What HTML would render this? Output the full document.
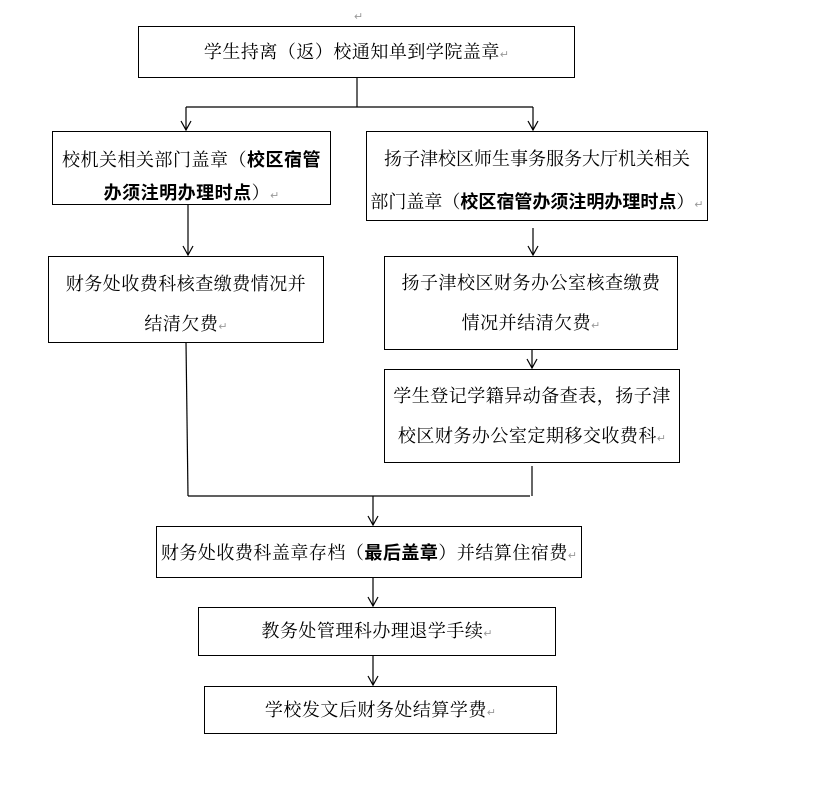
<!DOCTYPE html>
<html><head><meta charset="utf-8"><style>
body{margin:0;background:#fff;width:813px;height:797px;position:relative;overflow:hidden;font-family:"Liberation Serif","Noto Serif CJK SC",serif;}
.b{position:absolute;border:1.3px solid #000;box-sizing:border-box;font-size:18px;letter-spacing:0.5px;color:#000;text-align:center;line-height:40px;white-space:nowrap;}
.m{color:#999;font-size:11px;letter-spacing:0;}
b{font-weight:bold;font-family:"Noto Sans CJK SC",sans-serif;}
svg{position:absolute;left:0;top:0;}
</style></head><body>
<svg width="813" height="797" stroke="#000" stroke-width="1.2" fill="none">
<line x1="357" y1="77" x2="357" y2="107"/>
<line x1="186" y1="107" x2="533" y2="107"/>
<line x1="186" y1="107" x2="186" y2="130"/><polyline points="181,121 186,130 191,121"/>
<line x1="533" y1="107" x2="533" y2="130"/><polyline points="528,121 533,130 538,121"/>
<line x1="188" y1="204" x2="188" y2="255"/><polyline points="183,246 188,255 193,246"/>
<line x1="533" y1="228" x2="533" y2="255"/><polyline points="528,246 533,255 538,246"/>
<line x1="532" y1="349" x2="532" y2="368"/><polyline points="527,359 532,368 537,359"/>
<line x1="186" y1="342" x2="188" y2="496"/>
<line x1="532" y1="466" x2="532" y2="496"/>
<line x1="188" y1="496" x2="530" y2="496"/>
<line x1="373" y1="496" x2="373" y2="525"/><polyline points="368,516 373,525 378,516"/>
<line x1="373" y1="577" x2="373" y2="606"/><polyline points="368,597 373,606 378,597"/>
<line x1="373" y1="655" x2="373" y2="685"/><polyline points="368,676 373,685 378,676"/>
</svg>
<div class="m" style="position:absolute;left:354px;top:10px">↵</div>
<div class="b" style="left:138px;top:26px;width:437px;height:52px;line-height:50px">学生持离（返）校通知单到学院盖章<span class="m">↵</span></div>
<div class="b" style="left:52px;top:131px;width:279px;height:74px;padding-top:11px;line-height:32px">校机关相关部门盖章（<b>校区宿管</b><br><b>办须注明办理时点</b>）<span class="m">↵</span></div>
<div class="b" style="left:366px;top:131px;width:342px;height:90px;padding-top:6px;line-height:42px;letter-spacing:0">扬子津校区师生事务服务大厅机关相关<br>部门盖章（<b>校区宿管办须注明办理时点</b>）<span class="m">↵</span></div>
<div class="b" style="left:48px;top:256px;width:276px;height:87px;padding-top:7px">财务处收费科核查缴费情况并<br>结清欠费<span class="m">↵</span></div>
<div class="b" style="left:384px;top:256px;width:294px;height:94px;padding-top:6px">扬子津校区财务办公室核查缴费<br>情况并结清欠费<span class="m">↵</span></div>
<div class="b" style="left:384px;top:369px;width:296px;height:94px;padding-top:6px">学生登记学籍异动备查表，扬子津<br>校区财务办公室定期移交收费科<span class="m">↵</span></div>
<div class="b" style="left:156px;top:526px;width:426px;height:52px;line-height:50px">财务处收费科盖章存档（<b>最后盖章</b>）并结算住宿费<span class="m">↵</span></div>
<div class="b" style="left:198px;top:607px;width:358px;height:49px;line-height:47px">教务处管理科办理退学手续<span class="m">↵</span></div>
<div class="b" style="left:204px;top:686px;width:353px;height:48px;line-height:46px">学校发文后财务处结算学费<span class="m">↵</span></div>
</body></html>
